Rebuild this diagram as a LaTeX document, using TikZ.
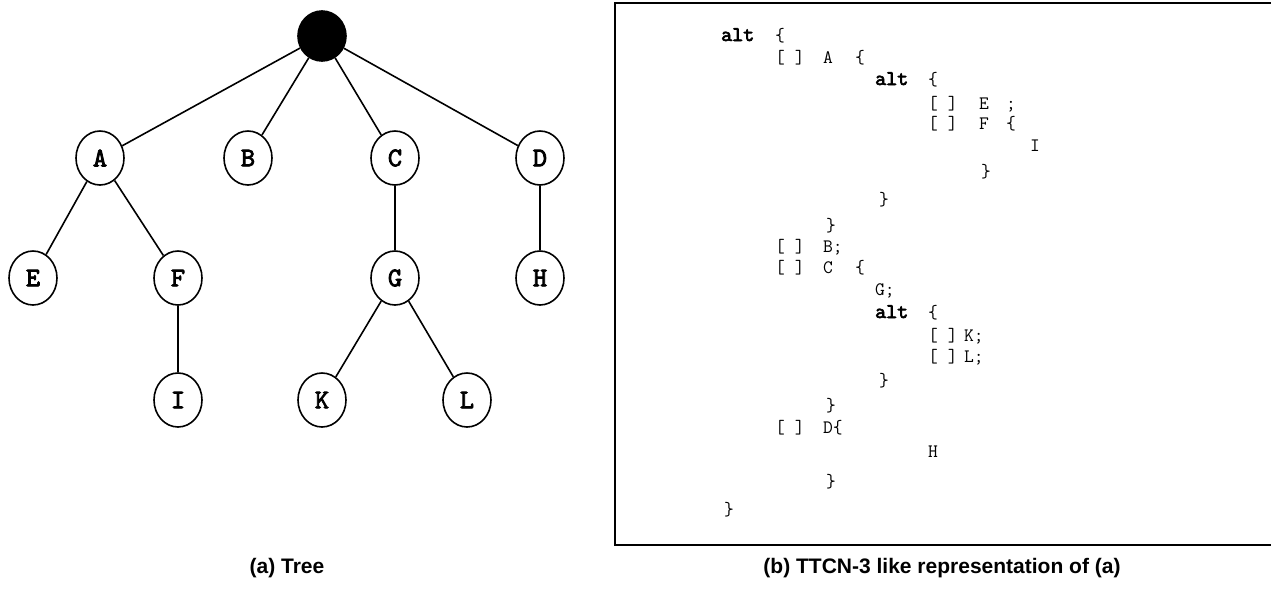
\documentclass[tikz,border=0pt]{standalone}
\usepackage{fontspec}
\newfontfamily\capfont{Liberation Sans}
\newfontfamily\boldmono{lmmono10-regular.otf}[FakeBold=3]
\usetikzlibrary{shapes.geometric}

\tikzset{
  vertex/.style={draw,ellipse,line width=1.6pt,minimum width=48pt,minimum height=54pt,inner sep=0pt,
    font=\boldmono\fontsize{27}{27}\selectfont},
  codeline/.style={anchor=base west,inner sep=0pt,font=\ttfamily\fontsize{19}{19}\selectfont},
  caption/.style={font=\capfont\bfseries\fontsize{21}{21}\selectfont}
}
\newcommand{\tok}[2]{\makebox[#1pt][l]{#2}}
\newcommand{\kw}[1]{{\boldmono\fontsize{21}{21}\selectfont #1}}

\begin{document}
\begin{tikzpicture}[x=1pt,y=-1pt]
\useasboundingbox (0,0) rectangle (1271,589);
% (a) the tree
\node[draw,fill=black,ellipse,line width=1.6pt,minimum width=48pt,minimum height=50pt] (root) at (322,36) {};
\node[vertex] (A) at (100,158) {A};
\node[vertex] (B) at (248,158) {B};
\node[vertex] (C) at (395,158) {C};
\node[vertex] (D) at (540,158) {D};
\node[vertex] (E) at (33,278) {E};
\node[vertex] (F) at (178,278) {F};
\node[vertex] (G) at (395,278) {G};
\node[vertex] (H) at (540,278) {H};
\node[vertex] (I) at (178,400) {I};
\node[vertex] (K) at (322,400) {K};
\node[vertex] (L) at (467,400) {L};
\draw[line width=1.6pt] (root)--(A) (root)--(B) (root)--(C) (root)--(D);
\draw[line width=1.6pt] (A)--(E) (A)--(F) (F)--(I);
\draw[line width=1.6pt] (C)--(G) (G)--(K) (G)--(L) (D)--(H);
% (b) the TTCN-3 text
\draw[line width=2.5pt] (1271,3)--(615,3)--(615,545)--(1271,545);
\node[codeline] (l1) at (721,41) {\tok{54}{\kw{alt}}\{};
\node[codeline] (l2) at (775,63) {\tok{48}{[ ]}\tok{32}{A}\{};
\node[codeline] (l3) at (875,85) {\tok{53}{\kw{alt}}\{};
\node[codeline] (l4) at (928,109) {\tok{51}{[ ]}\tok{27}{E};};
\node[codeline] (l5) at (928,129) {\tok{51}{[ ]}\tok{27}{F}\{};
\node[codeline] (l6) at (1030,151) {I};
\node[codeline] (l7) at (981,177) {\}};
\node[codeline] (l8) at (879,205) {\}};
\node[codeline] (l9) at (826,231) {\}};
\node[codeline] (l10) at (775,252) {\tok{48}{[ ]}B;};
\node[codeline] (l11) at (775,273) {\tok{48}{[ ]}\tok{32}{C}\{};
\node[codeline] (l12) at (875,295) {G;};
\node[codeline] (l13) at (875,318) {\tok{53}{\kw{alt}}\{};
\node[codeline] (l14) at (928,341) {\tok{36}{[ ]}K;};
\node[codeline] (l15) at (928,362) {\tok{36}{[ ]}L;};
\node[codeline] (l16) at (879,386) {\}};
\node[codeline] (l17) at (826,411) {\}};
\node[codeline] (l18) at (775,433) {\tok{48}{[ ]}D\{};
\node[codeline] (l19) at (928,457) {H};
\node[codeline] (l20) at (826,487) {\}};
\node[codeline] (l21) at (724,515) {\}};
% captions
\node[caption] (capa) at (287,568) {(a) Tree};
\node[caption] (capb) at (942,568) {(b) TTCN-3 like representation of (a)};
\end{tikzpicture}
\end{document}
